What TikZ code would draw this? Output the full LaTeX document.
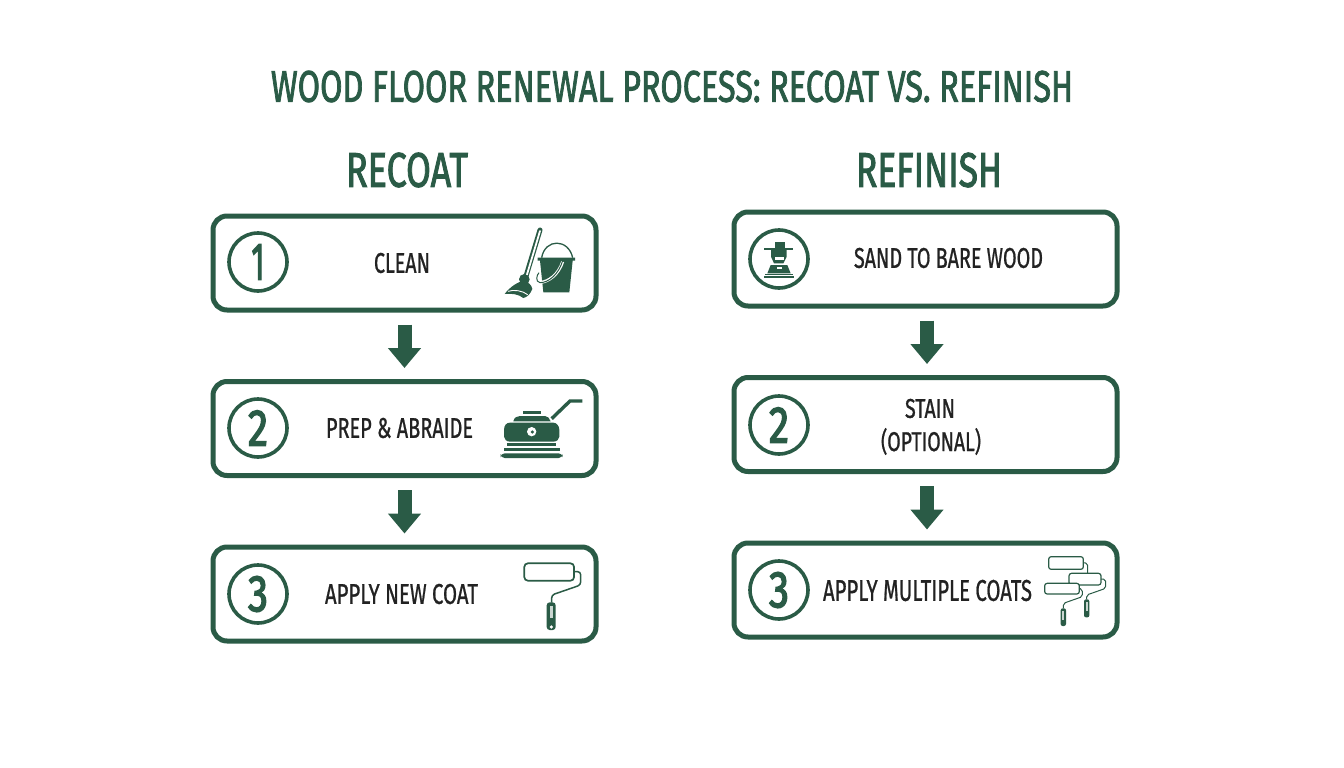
\documentclass[tikz,border=0pt]{standalone}
\usepackage{fontspec}
\usepackage{graphicx}
\setmainfont{Liberation Sans}
\newfontfamily\headfont[FakeBold=2.2]{Fira Sans}
\newfontfamily\bodyfont[FakeBold=1]{Fira Sans}
\newfontfamily\digitfont[FakeBold=3]{Fira Sans}
\usetikzlibrary{arrows.meta}
\definecolor{fgreen}{HTML}{2A5B46}
\definecolor{ink}{HTML}{222222}
\newcommand{\tfit}[3]{\resizebox{#1pt}{#2pt}{#3}}
\tikzset{
  x=1pt,y=-1pt,
  stepbox/.style={draw=fgreen,line width=5pt,rounded corners=14pt,fill=white,minimum width=383pt,minimum height=94pt,inner sep=0pt},
  numring/.style={draw=fgreen,line width=3.6pt,circle,minimum size=58pt,inner sep=0pt,text=fgreen,font=\digitfont},
  label/.style={inner sep=0pt,text=ink,font=\bodyfont},
  headtxt/.style={inner sep=0pt,text=fgreen,font=\headfont},
  flow/.style={draw=fgreen,line width=14pt,-{Triangle[length=20pt,width=32pt]},shorten <=12pt,shorten >=11pt},
  ico/.style={shift={#1},x=0.33333pt,y=-0.33333pt},
}
\begin{document}
\begin{tikzpicture}
\useasboundingbox[fill=white] (0,0) rectangle (1344,768);

\node[headtxt] (title) at (672,86.5) {\tfit{802}{31}{WOOD FLOOR RENEWAL PROCESS: RECOAT VS. REFINISH}};
\node[headtxt] (hleft) at (407,170) {\tfit{122}{34}{RECOAT}};
\node[headtxt] (hright) at (929,170) {\tfit{146}{34}{REFINISH}};

% boxes
\node[stepbox] (l1) at (404.5,263) {};
\node[stepbox] (l2) at (404.5,428.5) {};
\node[stepbox] (l3) at (404.5,594) {};
\node[stepbox] (r1) at (925.5,259) {};
\node[stepbox] (r2) at (925.5,424.5) {};
\node[stepbox] (r3) at (925.5,590) {};

% connectors
\draw[flow] (l1.south) -- (l2.north);
\draw[flow] (l2.south) -- (l3.north);
\draw[flow] ([xshift=1.5pt]r1.south) -- ([xshift=1.5pt]r2.north);
\draw[flow] ([xshift=1.5pt]r2.south) -- ([xshift=1.5pt]r3.north);

% number rings
\node[numring] (n1) at (258,262) {\tfit{13}{35}{1}};
\node[numring] (n2) at (258,428) {\tfit{20}{35}{2}};
\node[numring] (n3) at (258,594) {\tfit{20}{35}{3}};
\node[numring] (s1) at (779,259) {};
\node[numring] (s2) at (779,425) {\tfit{20}{35}{2}};
\node[numring] (s3) at (779,590) {\tfit{20}{35}{3}};

% labels
\node[label] (t1) at (402,263) {\tfit{56}{20}{CLEAN}};
\node[label] (t2) at (399.5,428) {\tfit{147}{20}{PREP \& ABRAIDE}};
\node[label] (t3) at (401.5,594) {\tfit{153}{20}{APPLY NEW COAT}};
\node[label] (t4) at (948.5,258) {\tfit{189}{20}{SAND TO BARE WOOD}};
\node[label] (t5) at (930,408.5) {\tfit{50}{19}{STAIN}};
\node[label] (t6) at (931,441.5) {\tfit{100}{23}{(OPTIONAL)}};
\node[label] (t7) at (927.5,590.5) {\tfit{209}{21}{APPLY MULTIPLE COATS}};

% mop and bucket
\begin{scope}[ico={(490,220)}]
  \draw[fgreen,line width=5pt,line cap=round] (150,30) -- (107,172);
  \draw[white,line width=1.8pt,line cap=round] (150,33) -- (109,170);
  \fill[fgreen] (103,178) circle (16);
  \fill[fgreen] (44,222) .. controls (60,200) and (85,185) .. (100,183) .. controls (115,185) and (125,195) .. (127,207) .. controls (122,220) and (112,232) .. (100,234) .. controls (85,222) and (65,220) .. (44,222) -- cycle;
  \draw[white,line width=0.9pt] (54,214) .. controls (72,208) and (98,212) .. (113,224);
  \fill[fgreen] (143,113) -- (255,113) -- (255,122) -- (248,122) -- (238,217) -- (160,217) -- (150,122) -- (143,122) -- cycle;
  \draw[fgreen,line width=1.3pt] (155,113) .. controls (165,55) and (235,55) .. (248,113);
  \draw[white,line width=3pt] (218,125) .. controls (205,165) and (175,185) .. (152,187);
  \draw[fgreen,line width=1pt] (218,122) .. controls (205,165) and (175,188) .. (150,188) .. controls (135,185) and (140,165) .. (147,158);
\end{scope}

% floor machine
\begin{scope}[ico={(490,390)}]
  \fill[fgreen] (100,62) rectangle (152,72);
  \fill[fgreen] (70,94) .. controls (72,82) and (82,78) .. (90,78) -- (165,78) .. controls (172,78) and (180,85) .. (182,94) -- cycle;
  \fill[fgreen] (42,120) .. controls (42,105) and (50,98) .. (60,98) -- (190,98) .. controls (200,98) and (208,108) .. (208,120) -- (208,140) .. controls (208,148) and (200,155) .. (190,155) -- (60,155) .. controls (50,155) and (42,148) .. (42,140) -- cycle;
  \fill[white] (125,125) circle (14);
  \fill[fgreen] (127,126) circle (5);
  \fill[fgreen] (52,159) rectangle (198,169);
  \fill[fgreen] (42,175) rectangle (210,184);
  \fill[fgreen,rounded corners=4pt] (32,190) rectangle (218,204);
  \draw[fgreen,line width=3.4pt] (185,86) -- (240,33) -- (277,33);
\end{scope}

% roller
\begin{scope}[ico={(510,550)}]
  \draw[fgreen,line width=1.7pt,rounded corners=3.5pt] (43,40) rectangle (192,92);
  \draw[fgreen,line width=1.5pt,rounded corners=3pt] (192,65) -- (212,65) -- (212,105) -- (125,135) -- (125,158);
  \fill[fgreen,rounded corners=3pt] (110,157) rectangle (137,240);
  \fill[white!75!fgreen] (119,168) rectangle (128,205);
  \fill[white] (124,231) circle (5.5);
\end{scope}

% several rollers
\begin{scope}[ico={(1020,540)}]
  \draw[fgreen,line width=1.2pt,rounded corners=2.5pt] (86,50) rectangle (190,88);
  \draw[fgreen,line width=1pt,rounded corners=2pt] (190,68) -- (203,70) -- (203,100);
  \draw[fgreen,line width=1.2pt,fill=white,rounded corners=2.5pt] (147,100) rectangle (243,135);
  \draw[fgreen,line width=1pt,rounded corners=2pt] (243,117) -- (257,118) -- (257,145) -- (200,165) -- (200,178);
  \fill[fgreen,rounded corners=2pt] (192,178) rectangle (208,232);
  \fill[white!75!fgreen] (197,186) rectangle (203,212);
  \draw[fgreen,line width=1.2pt,fill=white,rounded corners=2.5pt] (74,130) rectangle (178,162);
  \draw[fgreen,line width=1pt,rounded corners=2pt] (178,145) -- (187,148) -- (187,170) -- (130,190) -- (130,205);
  \fill[fgreen,rounded corners=2pt] (122,205) rectangle (138,258);
  \fill[white!75!fgreen] (127,213) rectangle (133,240);
\end{scope}

% sander figure in first ring
\begin{scope}[ico={(740,225)}]
  \fill[fgreen] (105,52) rectangle (135,72);
  \draw[fgreen,line width=1.3pt] (72,72) -- (160,72);
  \fill[fgreen] (93,74) -- (140,74) -- (140,95) -- (130,115) -- (102,115) -- (93,95) -- cycle;
  \fill[white] (105,97) rectangle (133,106);
  \fill[fgreen] (82,145) -- (92,120) -- (142,120) -- (152,145) -- cycle;
  \fill[white] (110,126) rectangle (125,133);
  \fill[fgreen] (75,147) rectangle (160,150);
  \fill[fgreen] (72,154) rectangle (162,158);
\end{scope}
\end{tikzpicture}
\end{document}
